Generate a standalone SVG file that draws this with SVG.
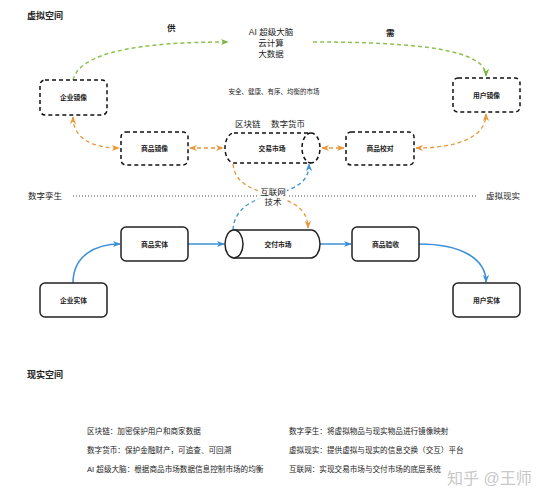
<svg xmlns="http://www.w3.org/2000/svg" width="547" height="500" viewBox="0 0 547 500">
<style>
text{font-family:"Liberation Sans","Noto Sans CJK SC",sans-serif;fill:#222}
.h{font-size:9px;font-weight:bold}
.lbl{font-size:8.5px}
.bold{font-weight:bold}
.nt{font-size:6.8px;font-weight:bold;text-anchor:middle;dominant-baseline:central}
.sm{font-size:6.5px}
.desc{font-size:7.6px}
.db{fill:#fff;stroke:#111;stroke-width:1.5;stroke-dasharray:4 3}
.sb{fill:#fff;stroke:#222;stroke-width:1.5}
.g{fill:none;stroke:#8dc152;stroke-width:1.5;stroke-dasharray:4 3}
.o{fill:none;stroke:#e8973a;stroke-width:1.3;stroke-dasharray:4 3}
.bd{fill:none;stroke:#3b8fd9;stroke-width:1.3;stroke-dasharray:4 3}
.b{fill:none;stroke:#3b8fd9;stroke-width:1.5}
</style>
<defs>
<marker id="ag" viewBox="0 0 10 10" refX="9" refY="5" markerWidth="8" markerHeight="8" orient="auto-start-reverse" markerUnits="userSpaceOnUse"><path d="M0,1 L10,5 L0,9 L3,5 Z" fill="#7cb342"/></marker>
<marker id="ao" viewBox="0 0 10 10" refX="9" refY="5" markerWidth="8" markerHeight="8" orient="auto-start-reverse" markerUnits="userSpaceOnUse"><path d="M0,1 L10,5 L0,9 L3,5 Z" fill="#e8973a"/></marker>
<marker id="ab" viewBox="0 0 10 10" refX="9" refY="5" markerWidth="8" markerHeight="8" orient="auto-start-reverse" markerUnits="userSpaceOnUse"><path d="M0,1 L10,5 L0,9 L3,5 Z" fill="#3b8fd9"/></marker>
</defs>
<rect width="547" height="500" fill="#fff"/>

<!-- labels -->
<text class="h" x="27" y="19">虚拟空间</text>
<text class="h" x="27" y="378">现实空间</text>
<text class="lbl bold" x="167" y="31">供</text>
<text class="lbl bold" x="386" y="36">需</text>
<text class="lbl" x="271" y="35" text-anchor="middle">AI 超级大脑</text>
<text class="lbl" x="271" y="46" text-anchor="middle">云计算</text>
<text class="lbl" x="271" y="57" text-anchor="middle">大数据</text>
<text class="sm" x="274" y="94" text-anchor="middle">安全、健康、有序、均衡的市场</text>
<text class="lbl" x="235" y="127">区块链</text>
<text class="lbl" x="271" y="127">数字货币</text>
<text class="lbl" x="28" y="199">数字孪生</text>
<text class="lbl" x="486" y="199">虚拟现实</text>
<line x1="73" y1="196" x2="478" y2="196" stroke="#444" stroke-width="1" stroke-dasharray="1 2"/>

<!-- connectors -->
<g id="connectors">
<path class="g" d="M73,80 C80,52 140,42 228,42" marker-end="url(#ag)"/>
<path class="g" d="M313,42 C420,42 486,50 486,76" marker-end="url(#ag)"/>
<path class="o" d="M73,117 C73,140 95,148 119,148" marker-start="url(#ao)" marker-end="url(#ao)"/>
<path class="o" d="M190,148 L223,148" marker-start="url(#ao)" marker-end="url(#ao)"/>
<path class="o" d="M322,148 L344,148" marker-start="url(#ao)" marker-end="url(#ao)"/>
<path class="o" d="M416,148 C460,148 486,136 486,114" marker-start="url(#ao)" marker-end="url(#ao)"/>
<path class="o" d="M233,164 C235,185 255,190 272,195 C295,202 308,210 308,228" marker-end="url(#ao)"/>
<path class="bd" d="M233,230 C234,210 250,200 272,195 C300,188 309,180 309,164" marker-end="url(#ab)"/>
<path class="b" d="M73,283 C73,256 95,244 120,244" marker-end="url(#ab)"/>
<path class="b" d="M188,244 L224,244" marker-end="url(#ab)"/>
<path class="b" d="M320,244 L351,244" marker-end="url(#ab)"/>
<path class="b" d="M419,244 C460,244 486,258 486,282" marker-end="url(#ab)"/>
</g>

<rect x="258" y="187" width="29" height="20" fill="#fff" opacity="0.85"/>
<text class="lbl" x="273" y="195" text-anchor="middle">互联网</text>
<text class="lbl" x="273" y="205" text-anchor="middle">技术</text>

<!-- virtual nodes -->
<g id="qiye-jingxiang"><rect class="db" x="40" y="80" width="67" height="35" rx="5"/><text class="nt" x="73.5" y="97.5">企业镜像</text></g>
<g id="yonghu-jingxiang"><rect class="db" x="453" y="78" width="67" height="34" rx="5"/><text class="nt" x="486.5" y="95">用户镜像</text></g>
<g id="shangpin-jingxiang"><rect class="db" x="121" y="132" width="67" height="33" rx="5"/><text class="nt" x="154.5" y="148.5">商品镜像</text></g>
<g id="jiaoyi-shichang">
<path class="db" d="M234,133 H311 A9,15 0 0 1 311,163 H234 A9,15 0 0 1 234,133 Z"/>
<path class="db" fill="none" d="M311,133 A9,15 0 0 0 311,163"/>
<text class="nt" x="272" y="148">交易市场</text></g>
<g id="shangpin-jiaodui"><rect class="db" x="346" y="132" width="68" height="33" rx="5"/><text class="nt" x="380" y="148.5">商品校对</text></g>

<!-- real nodes -->
<g id="shangpin-shiti"><rect class="sb" x="121" y="227" width="67" height="34" rx="5"/><text class="nt" x="154.5" y="244">商品实体</text></g>
<g id="jiaofu-shichang">
<path class="sb" d="M234,230 H311 A9,14 0 0 1 311,258 H234 Z"/>
<ellipse class="sb" cx="234" cy="244" rx="9" ry="14"/>
<text class="nt" x="278" y="244">交付市场</text></g>
<g id="shangpin-yanshou"><rect class="sb" x="352" y="227" width="67" height="34" rx="5"/><text class="nt" x="385.5" y="244">商品验收</text></g>
<g id="qiye-shiti"><rect class="sb" x="40" y="283" width="67" height="34" rx="5"/><text class="nt" x="73.5" y="300">企业实体</text></g>
<g id="yonghu-shiti"><rect class="sb" x="453" y="283" width="67" height="34" rx="5"/><text class="nt" x="486.5" y="300">用户实体</text></g>

<!-- descriptions -->
<text class="desc" x="87" y="434">区块链：加密保护用户和商家数据</text>
<text class="desc" x="87" y="453">数字货币：保护金融财产，可追查、可回溯</text>
<text class="desc" x="87" y="472">AI 超级大脑：根据商品市场数据信息控制市场的均衡</text>
<text class="desc" x="289" y="434">数字孪生：将虚拟物品与现实物品进行镜像映射</text>
<text class="desc" x="289" y="453">虚拟现实：提供虚拟与现实的信息交换（交互）平台</text>
<text class="desc" x="289" y="472">互联网：实现交易市场与交付市场的底层系统</text>
<text x="447" y="484" style="font-size:16px;fill:#c8c8c8">知乎 @王师</text>
</svg>
